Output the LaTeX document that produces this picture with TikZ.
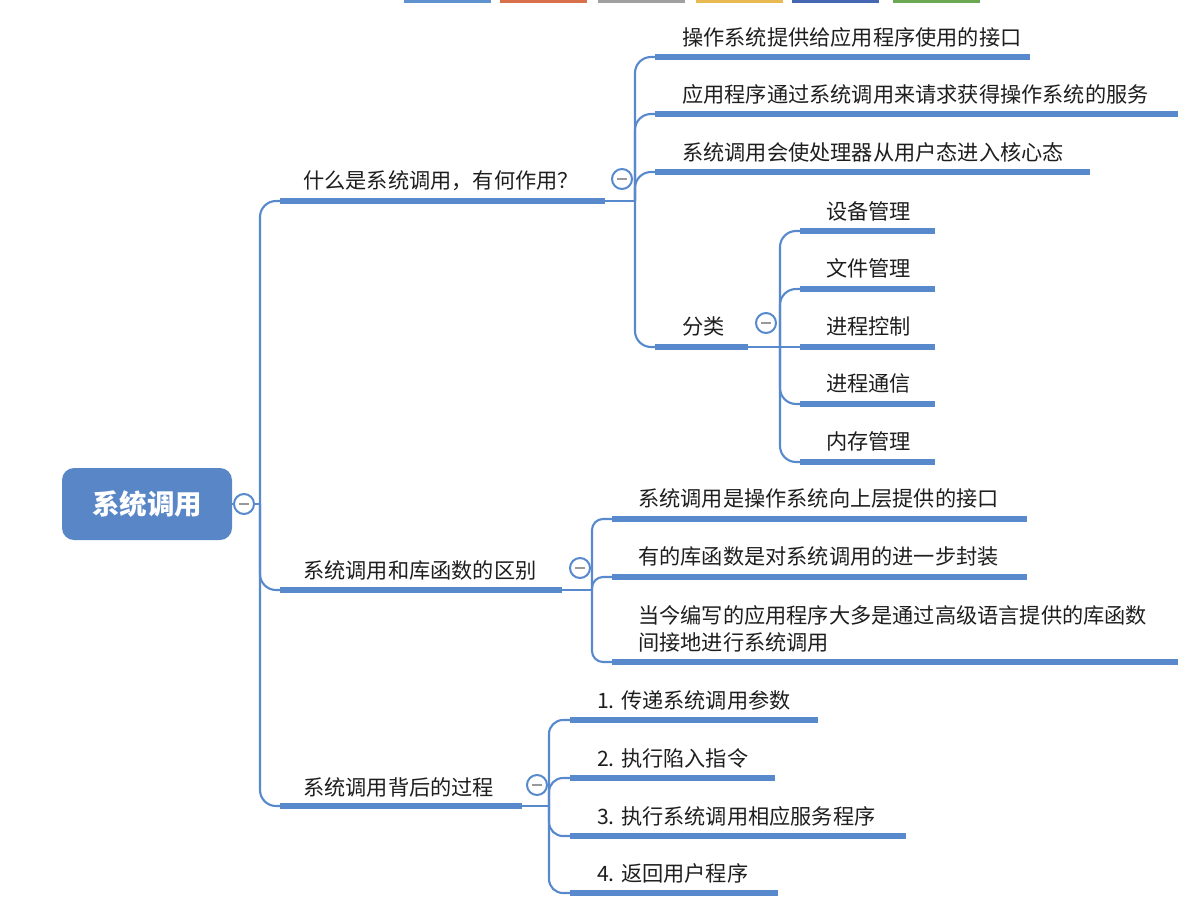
\documentclass[tikz,border=0pt]{standalone}
\usepackage{fontspec}
\setmainfont{Noto Sans CJK SC}
\definecolor{lc}{RGB}{88,137,205}
\definecolor{rootc}{RGB}{88,134,198}
\definecolor{tc}{RGB}{30,30,30}
\definecolor{tabA}{RGB}{96,146,208}
\definecolor{tabB}{RGB}{216,112,76}
\definecolor{tabC}{RGB}{160,160,160}
\definecolor{tabD}{RGB}{234,186,82}
\definecolor{tabE}{RGB}{70,104,178}
\definecolor{tabF}{RGB}{108,168,82}
\tikzset{
  thin/.style={draw=lc, line width=2.1pt},
  conn/.style={draw=lc, line width=2.1pt, rounded corners=16pt},
  uline/.style={draw=lc, line width=5.5pt},
  txt/.style={anchor=west, text=tc, font=\fontsize{21.2}{27}\selectfont, inner sep=0pt, align=left},
  fold/.style={circle, draw=lc, line width=2pt, fill=white, minimum size=20pt, inner sep=0pt,
    path picture={\draw[gray!80, line width=1.8pt] ([xshift=-5pt]path picture bounding box.center) -- ([xshift=5pt]path picture bounding box.center);}},
  rootbox/.style={rectangle, rounded corners=12pt, fill=rootc, text=white, minimum width=170pt, minimum height=72pt, font=\fontsize{27.5}{30}\selectfont\bfseries},
  tab/.style={rectangle, minimum height=3pt, inner sep=0pt, minimum width=87pt},
}
\begin{document}
\begin{tikzpicture}[x=1pt,y=-1pt]
\useasboundingbox (0,0) rectangle (1193,918);
% top tabs
\node[tab, fill=tabA] (tab1) at (447.5,1.5) {};
\node[tab, fill=tabB] (tab2) at (543.5,1.5) {};
\node[tab, fill=tabC] (tab3) at (641.5,1.5) {};
\node[tab, fill=tabD] (tab4) at (739,1.5) {};
\node[tab, fill=tabE] (tab5) at (835.5,1.5) {};
\node[tab, fill=tabF] (tab6) at (936,1.5) {};

% root
\node[rootbox] (root) at (147,504) {系统调用};
\node[fold] (f0) at (244,504) {};
\coordinate (trunk) at (260,504);
\draw[thin] (root.east) -- (f0.west);
\draw[thin] (f0.east) -- (trunk);

% level 1
\coordinate (a-s) at (280,201); \coordinate (a-e) at (605,201);
\coordinate (b-s) at (280,590); \coordinate (b-e) at (562,590);
\coordinate (c-s) at (280,806); \coordinate (c-e) at (522,806);
\draw[conn] (trunk) |- (a-s);
\draw[conn] (trunk) |- (b-s);
\draw[conn] (trunk) |- (c-s);
\draw[uline] (a-s) -- (a-e);
\draw[uline] (b-s) -- (b-e);
\draw[uline] (c-s) -- (c-e);
\node[txt] (a) at (303,181) {什么是系统调用，有何作用？};
\node[txt] (b) at (303,570) {系统调用和库函数的区别};
\node[txt] (c) at (303,787) {系统调用背后的过程};
\coordinate (aB) at (635,201);
\coordinate (bB) at (592,590);
\coordinate (cB) at (549,806);
\draw[thin] (a-e) -- (aB);
\draw[thin] (b-e) -- (bB);
\draw[thin] (c-e) -- (cB);

% group a children
\coordinate (a1-s) at (655,57);  \coordinate (a1-e) at (1030,57);
\coordinate (a2-s) at (655,114); \coordinate (a2-e) at (1178,114);
\coordinate (a3-s) at (655,172); \coordinate (a3-e) at (1090,172);
\coordinate (a4-s) at (655,347); \coordinate (a4-e) at (748,347);
\foreach \n in {a1,a2,a3,a4} {\draw[conn] (aB) |- (\n-s); \draw[uline] (\n-s) -- (\n-e);}
\node[txt] (a1) at (682,37) {操作系统提供给应用程序使用的接口};
\node[txt] (a2) at (682,94) {应用程序通过系统调用来请求获得操作系统的服务};
\node[txt] (a3) at (682,152) {系统调用会使处理器从用户态进入核心态};
\node[txt] (a4) at (682,326) {分类};
\node[fold] (fa) at (622,179) {};

% classification children
\coordinate (kB) at (780,347);
\draw[thin] (a4-e) -- (kB);
\coordinate (k1-s) at (800,231); \coordinate (k1-e) at (935,231);
\coordinate (k2-s) at (800,289); \coordinate (k2-e) at (935,289);
\coordinate (k3-s) at (800,347); \coordinate (k3-e) at (935,347);
\coordinate (k4-s) at (800,404); \coordinate (k4-e) at (935,404);
\coordinate (k5-s) at (800,462); \coordinate (k5-e) at (935,462);
\foreach \n in {k1,k2,k4,k5} {\draw[conn] (kB) |- (\n-s);}
\draw[thin] (kB) -- (k3-s);
\foreach \n in {k1,k2,k3,k4,k5} {\draw[uline] (\n-s) -- (\n-e);}
\node[txt] (k1) at (826,211) {设备管理};
\node[txt] (k2) at (826,268) {文件管理};
\node[txt] (k3) at (826,326) {进程控制};
\node[txt] (k4) at (826,383) {进程通信};
\node[txt] (k5) at (826,441) {内存管理};
\node[fold] (fk) at (766,323) {};

% group b children
\coordinate (b1-s) at (612,519); \coordinate (b1-e) at (1027,519);
\coordinate (b2-s) at (612,577); \coordinate (b2-e) at (1027,577);
\coordinate (b3-s) at (612,662); \coordinate (b3-e) at (1178,662);
\foreach \n in {b1,b2,b3} {\draw[conn, rounded corners=11pt] (bB) |- (\n-s); \draw[uline] (\n-s) -- (\n-e);}
\node[txt] (b1) at (638,498) {系统调用是操作系统向上层提供的接口};
\node[txt] (b2) at (638,556) {有的库函数是对系统调用的进一步封装};
\node[txt] (b3) at (638,628.5) {当今编写的应用程序大多是通过高级语言提供的库函数\\间接地进行系统调用};
\node[fold] (fb) at (580,568) {};

% group c children
\coordinate (c1-s) at (570,720); \coordinate (c1-e) at (818,720);
\coordinate (c2-s) at (570,778); \coordinate (c2-e) at (775,778);
\coordinate (c3-s) at (570,836); \coordinate (c3-e) at (906,836);
\coordinate (c4-s) at (570,893); \coordinate (c4-e) at (778,893);
\foreach \n in {c1,c2,c3,c4} {\draw[conn, rounded corners=14pt] (cB) |- (\n-s); \draw[uline] (\n-s) -- (\n-e);}
\node[txt] (c1) at (597,700) {1. 传递系统调用参数};
\node[txt] (c2) at (597,758) {2. 执行陷入指令};
\node[txt] (c3) at (597,816) {3. 执行系统调用相应服务程序};
\node[txt] (c4) at (597,873) {4. 返回用户程序};
\node[fold] (fc) at (537,785) {};
\end{tikzpicture}
\end{document}
